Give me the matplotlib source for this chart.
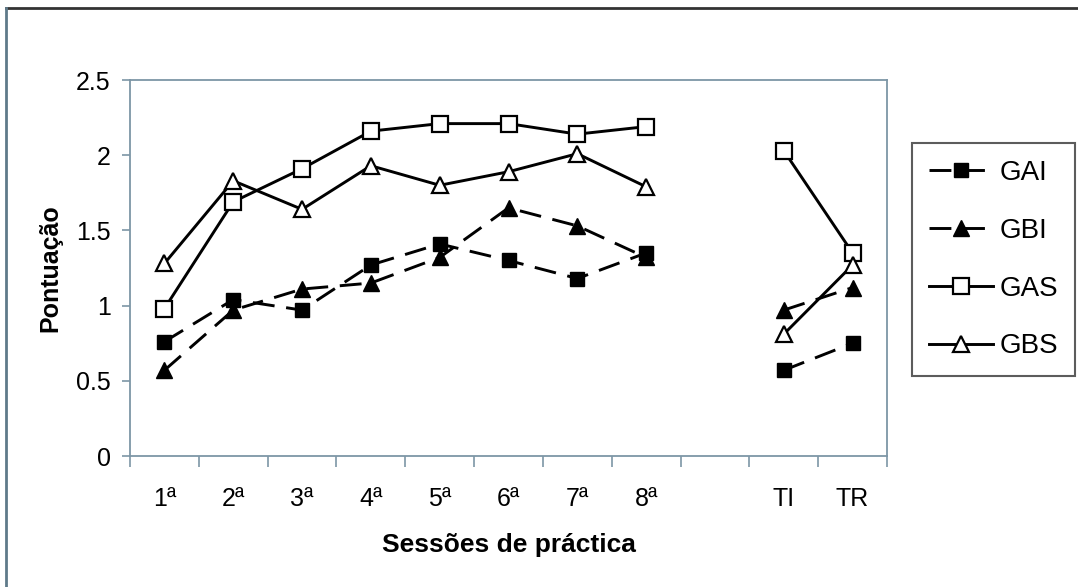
import numpy as np
import matplotlib
matplotlib.use("Agg")
import matplotlib.pyplot as plt
from matplotlib.lines import Line2D

plt.rcParams['font.family'] = ['Liberation Sans', 'DejaVu Sans']

categories = ['1ª', '2ª', '3ª', '4ª', '5ª', '6ª', '7ª', '8ª', '', 'TI', 'TR']
GAI = [0.76, 1.04, 0.97, 1.27, 1.41, 1.30, 1.18, 1.35, np.nan, 0.57, 0.75]
GBI = [0.57, 0.97, 1.11, 1.15, 1.32, 1.65, 1.53, 1.32, np.nan, 0.97, 1.12]
GAS = [0.98, 1.69, 1.91, 2.16, 2.21, 2.21, 2.14, 2.19, np.nan, 2.03, 1.35]
GBS = [1.28, 1.83, 1.64, 1.93, 1.80, 1.89, 2.01, 1.79, np.nan, 0.81, 1.27]
y_ticks = [0, 0.5, 1, 1.5, 2, 2.5]
y_tick_labels = ['0', '0.5', '1', '1.5', '2', '2.5']

fig = plt.figure(figsize=(10.78, 5.87), dpi=100)
ax = fig.add_axes([130/1078, 1-456/587, (887-130)/1078, (456-80)/587])

x = np.arange(1, len(categories) + 1)
lw = 2.1
spine_c = '#7d96a6'

ax.plot(x, GAI, color='black', lw=lw, dashes=(7.5, 4), marker='s', ms=10,
        mfc='black', mec='black', label='GAI')
ax.plot(x, GBI, color='black', lw=lw, dashes=(7.5, 4), marker='^', ms=11,
        mfc='black', mec='black', label='GBI')
ax.plot(x, GAS, color='black', lw=lw, marker='s', ms=11.5, mfc='white',
        mec='black', mew=1.6, label='GAS')
ax.plot(x, GBS, color='black', lw=lw, marker='^', ms=12, mfc='white',
        mec='black', mew=1.6, label='GBS')

ax.set_xlim(0.5, len(categories) + 0.5)
ax.set_ylim(0, 2.5)
ax.set_yticks(y_ticks)
ax.set_yticklabels(y_tick_labels, fontsize=18)
ax.set_xticks(np.arange(0.5, len(categories) + 1, 1.0))
ax.set_xticklabels([])
ax.set_xticks(x, minor=True)
ax.set_xticklabels(categories, minor=True, fontsize=18)
ax.tick_params(axis='x', which='major', length=8, color=spine_c, width=1.2, direction='out')
ax.tick_params(axis='x', which='minor', length=0, pad=22)
ax.tick_params(axis='y', length=6, color=spine_c, width=1.2, direction='out', pad=8)

for s in ax.spines.values():
    s.set_color(spine_c)
    s.set_linewidth(1.3)

ax.set_xlabel('Sessões de práctica', fontsize=19, fontweight='bold', labelpad=16)
ax.set_ylabel('Pontuação', fontsize=18, fontweight='bold', labelpad=10)

leg = fig.legend(loc='upper left', bbox_to_anchor=(912/1078, 1-143/587),
                 bbox_transform=fig.transFigure, fontsize=20, handlelength=2.3,
                 numpoints=1, labelspacing=1.15, borderpad=0.6, handletextpad=0.25,
                 frameon=True, fancybox=False, borderaxespad=0)
leg.get_frame().set_edgecolor('#333333')
leg.get_frame().set_linewidth(1.5)

# outer frame
fig.add_artist(Line2D([6/1078, 1], [1-8/587, 1-8/587], transform=fig.transFigure,
                      color='#333333', lw=2))
fig.add_artist(Line2D([6/1078, 6/1078], [0, 1-8/587], transform=fig.transFigure,
                      color='#5f7a8a', lw=2))

fig.savefig('out.png', dpi=100)
